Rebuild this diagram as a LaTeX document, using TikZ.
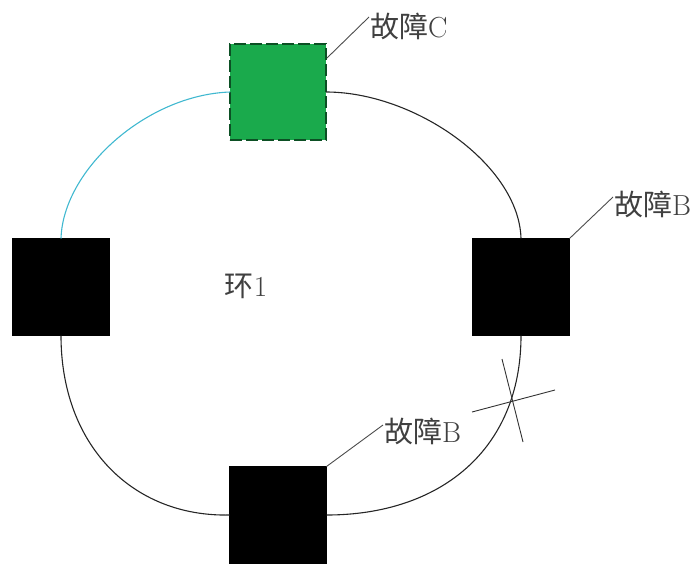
\documentclass[tikz,border=0pt]{standalone}
\usepackage{fontspec}
\newfontfamily\cjk{Noto Sans CJK SC}
\begin{document}
\begin{tikzpicture}[x=1pt,y=-1pt,
  blk/.style={fill=black,draw=black,line width=1pt,minimum size=97pt,inner sep=0pt,outer sep=0pt},
  grn/.style={fill={rgb,255:red,26;green,170;blue,76},draw={rgb,255:red,12;green,80;blue,36},dashed,dash pattern=on 12pt off 4pt,line width=1.8pt,minimum size=96pt,inner sep=0pt,outer sep=0pt},
  ring/.style={line width=1.1pt,draw=black!85},
  cyanring/.style={line width=1.1pt,draw={rgb,255:red,64;green,184;blue,208}},
  lbl/.style={anchor=west,inner sep=0pt,text=black!75,font=\fontsize{29}{34}\selectfont},
  lead/.style={line width=0.9pt,draw=black!70}]
\useasboundingbox (0,0) rectangle (700,563);
\node[grn] (sqC) at (278,92) {};
\node[blk] (sqR) at (521,287) {};
\node[blk] (sqL) at (61,287) {};
\node[blk] (sqB) at (278,515) {};
\draw[cyanring] (sqC.west) .. controls (146,95) and (63,170) .. (sqL.north);
\draw[ring] (sqC.east) .. controls (415,92) and (519,165) .. (sqR.north);
\draw[ring] (sqR.south) .. controls (521,450) and (440,515) .. (sqB.east);
\draw[ring] (sqB.west) .. controls (132,517) and (61,445) .. (sqL.south);
\node[lbl] (lC) at (370,26) {{\cjk 故障}C};
\node[lbl] (lR) at (614,204) {{\cjk 故障}B};
\node[lbl] (lB) at (384,431) {{\cjk 故障}B};
\node[lbl,anchor=center] (ring1) at (246,286) {{\cjk 环}1};
\coordinate (cC) at (327,58);
\draw[lead] (cC) -- ([xshift=-1pt,yshift=9pt]lC.west);
\draw[lead] (sqR.north east) -- ([xshift=-1pt,yshift=7pt]lR.west);
\draw[lead] (sqB.north east) -- ([xshift=-1pt,yshift=6pt]lB.west);
\coordinate (x1a) at (472,412);
\coordinate (x1b) at (555,390);
\coordinate (x2a) at (502,359);
\coordinate (x2b) at (523,442);
\draw[lead,draw=black!80] (x1a) -- (x1b);
\draw[lead,draw=black!80] (x2a) -- (x2b);
\end{tikzpicture}
\end{document}
